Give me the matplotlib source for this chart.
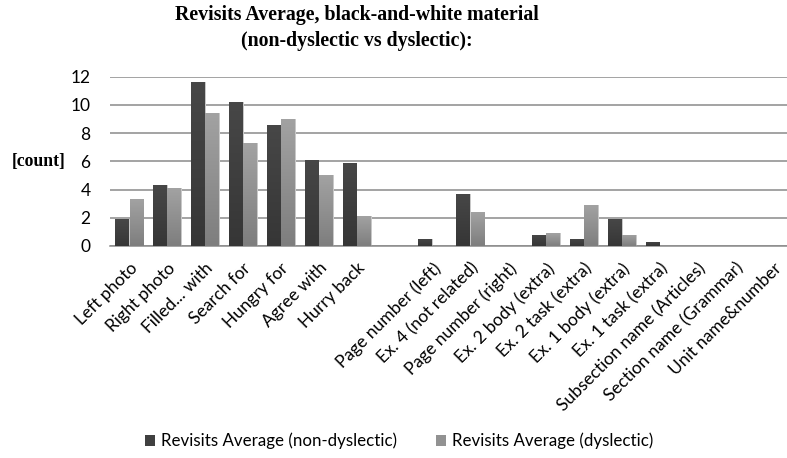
import numpy as np
import matplotlib.pyplot as plt
from matplotlib.patches import Patch
from matplotlib.colors import LinearSegmentedColormap

categories = [
    "Left photo", "Right photo", "Filled... with", "Search for", "Hungry for",
    "Agree with", "Hurry back", "", "Page number (left)", "Ex. 4 (not related)",
    "Page number (right)", "Ex. 2 body (extra)", "Ex. 2 task (extra)",
    "Ex. 1 body (extra)", "Ex. 1 task (extra)", "Subsection name (Articles)",
    "Section name (Grammar)", "Unit name&number",
]
non_dyslectic = [1.9, 4.3, 11.6, 10.2, 8.6, 6.1, 5.9, 0, 0.5, 3.7, 0, 0.8, 0.5, 1.9, 0.3, 0, 0, 0]
dyslectic = [3.3, 4.1, 9.4, 7.3, 9.0, 5.0, 2.1, 0, 0, 2.4, 0, 0.9, 2.9, 0.8, 0, 0, 0, 0]

series = [
    ("Revisits Average (non-dyslectic)", non_dyslectic, ("#474747", "#363636")),
    ("Revisits Average (dyslectic)", dyslectic, ("#a2a2a2", "#7e7e7e")),
]

W, H = 787, 458
fig = plt.figure(figsize=(W / 100, H / 100), dpi=100)
ax = fig.add_axes([110 / W, 1 - 246 / H, (W - 110) / W, (246 - 76.7) / H])

x = np.arange(len(categories))
width = 0.35
offsets = [-0.19, 0.19]


def gradient_bars(bars, top_col, bottom_col):
    # fill each bar with a vertical gradient, lighter at the top
    cmap = LinearSegmentedColormap.from_list("g", [bottom_col, top_col])
    grad = np.linspace(0, 1, 64).reshape(-1, 1)
    for b in bars:
        h = b.get_height()
        if h <= 0:
            continue
        b.set_facecolor("none")
        x0 = b.get_x()
        im = ax.imshow(grad, cmap=cmap, aspect="auto", origin="lower",
                       extent=[x0, x0 + b.get_width(), 0, h], zorder=3)
        im.set_clip_path(b)


for (label, vals, (c_top, c_bot)), off in zip(series, offsets):
    bars = ax.bar(x + off, vals, width, color=c_bot, linewidth=0, zorder=3, label=label)
    # soft drop shadow
    ax.bar(x + off + 0.04, vals, width, color="#c8c8c8", linewidth=0, zorder=2)
    gradient_bars(bars, c_top, c_bot)

ax.set_xlim(-0.5, -0.5 + (W - 110) / 37.9)
ax.set_ylim(0, 12)
ax.set_yticks(range(0, 13, 2))
ax.yaxis.grid(True, color="#8a8a8a", linewidth=1.1)
ax.set_axisbelow(True)
for s in ["top", "right", "left"]:
    ax.spines[s].set_visible(False)
ax.spines["bottom"].set_color("#8a8a8a")
ax.spines["bottom"].set_linewidth(1.1)
ax.tick_params(axis="both", length=0)
ax.tick_params(axis="y", pad=14, labelsize=12.5)

ax.set_xticks(x)
ax.set_xticklabels(categories, rotation=45, ha="right", rotation_mode="anchor",
                   fontsize=12.5)
ax.tick_params(axis="x", pad=10)
for t in ax.get_xticklabels() + ax.get_yticklabels():
    t.set_fontfamily("Lato")

ax.set_ylabel("[count]", rotation=0, fontfamily="Liberation Serif",
              fontweight="bold", fontsize=12.7, va="center")
ax.yaxis.set_label_coords(-0.106, 0.5)

fig.suptitle("Revisits Average, black-and-white material\n(non-dyslectic vs dyslectic):",
             fontfamily="Liberation Serif", fontweight="bold", fontsize=14.3,
             x=357 / W, y=0.99, linespacing=1.4)

handles = [Patch(facecolor="#404040", label=series[0][0]),
           Patch(facecolor="#929292", label=series[1][0])]
fig.legend(handles=handles, loc="center", bbox_to_anchor=(399 / W, 1 - 441 / H),
           ncol=2, frameon=False, handlelength=0.6, handleheight=0.6,
           handletextpad=0.35, columnspacing=2.3,
           prop={"family": "Lato", "size": 12.2})

fig.savefig("out.png", dpi=100)
